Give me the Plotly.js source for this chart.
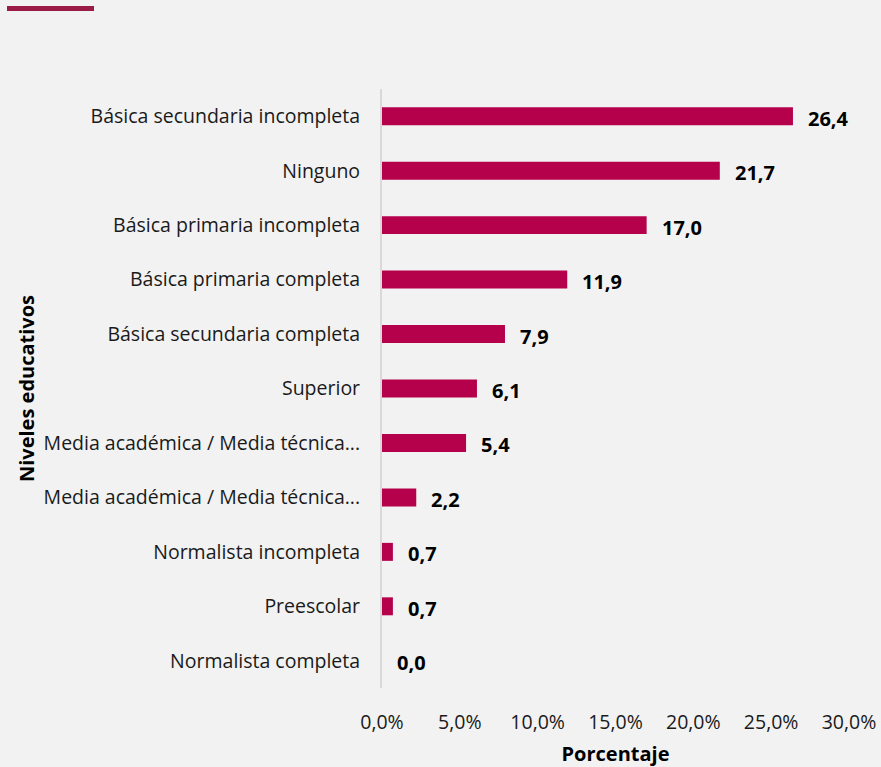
<!DOCTYPE html>
<html>
<head>
<meta charset="utf-8">
<script src="https://cdn.plot.ly/plotly-3.0.1.min.js"></script>
<style>
html,body{margin:0;padding:0;background:#f2f2f2;}
#chart{width:881px;height:767px;}
</style>
</head>
<body>
<div id="chart"></div>
<script>
const categories = [
  "Básica secundaria incompleta",
  "Ninguno",
  "Básica primaria incompleta",
  "Básica primaria completa",
  "Básica secundaria completa",
  "Superior",
  "Media académica / Media técnica...",
  "Media académica / Media técnica...",
  "Normalista incompleta",
  "Preescolar",
  "Normalista completa"
];
const values = [26.4, 21.7, 17.0, 11.9, 7.9, 6.1, 5.4, 2.2, 0.7, 0.7, 0.0];
const xTickVals = [0, 5, 10, 15, 20, 25, 30];
const xTickText = ["0,0%", "5,0%", "10,0%", "15,0%", "20,0%", "25,0%", "30,0%"];

const idx = categories.map((_, i) => i);
const fmt = v => v.toFixed(1).replace('.', ',');

const trace = {
  type: 'bar',
  orientation: 'h',
  x: values,
  y: idx,
  width: 0.33,
  marker: {color: '#b5004b'},
  hoverinfo: 'none'
};

const annotations = values.map((v, i) => ({
  x: v, y: i, xref: 'x', yref: 'y',
  text: '<b>' + fmt(v) + '</b>',
  showarrow: false, xanchor: 'left', yanchor: 'middle',
  xshift: 13, yshift: -2,
  font: {family: 'Open Sans, sans-serif', size: 20, color: '#000'}
}));

const layout = {
  width: 881, height: 767,
  paper_bgcolor: '#f2f2f2', plot_bgcolor: '#f2f2f2',
  margin: {l: 382, r: 32, t: 89, b: 79, pad: 0},
  showlegend: false,
  font: {family: 'Open Sans, sans-serif', size: 20, color: '#1a1a1a'},
  xaxis: {
    range: [0, 30],
    tickvals: xTickVals, ticktext: xTickText,
    showgrid: false, zeroline: false, showline: false,
    ticks: 'outside', ticklen: 17, tickcolor: 'rgba(0,0,0,0)',
    tickfont: {size: 19.5, color: '#1a1a1a'},
    title: {text: '<b>Porcentaje</b>', font: {size: 20, color: '#000'}, standoff: 13},
    fixedrange: true
  },
  yaxis: {
    range: [10.5, -0.5],
    tickvals: idx, ticktext: categories,
    showgrid: false, zeroline: false,
    showline: true, linecolor: '#d9d9d9', linewidth: 2,
    ticks: 'outside', ticklen: 16, tickcolor: 'rgba(0,0,0,0)',
    tickfont: {size: 19.5, color: '#1a1a1a'},
    title: {text: '<b>Niveles educativos</b>', font: {size: 20, color: '#000'}, standoff: 4},
    fixedrange: true
  },
  annotations: annotations,
  shapes: [{
    type: 'line', xref: 'paper', yref: 'paper',
    x0: (7 - 382) / 467, x1: (94 - 382) / 467,
    y0: (688 - 8.5) / 599, y1: (688 - 8.5) / 599,
    line: {color: '#9b1b47', width: 5}
  }]
};

Plotly.newPlot('chart', [trace], layout, {displayModeBar: false, staticPlot: true});
</script>
</body>
</html>
